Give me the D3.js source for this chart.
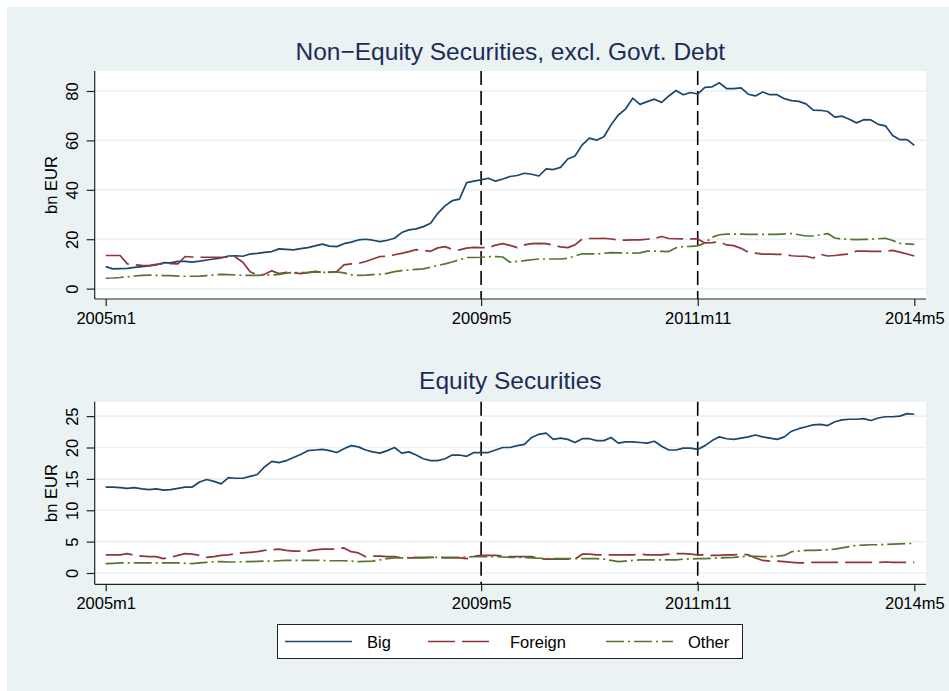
<!DOCTYPE html>
<html>
<head>
<meta charset="utf-8">
<script src="https://cdn.jsdelivr.net/npm/d3@7"></script>
<style>
  body { margin: 0; background: #ffffff; }
  text { font-family: "Liberation Sans", Arial, sans-serif; }
</style>
</head>
<body>
<div id="chart"></div>
<script>
// monthly data, 2005m1 .. 2014m5 (113 months), bn EUR

// x axis labels (Stata monthly format)
var xTickLabels = ["2005m1", "2009m5", "2011m11", "2014m5"];
// reference dates drawn as vertical dashed lines
var refLines = ["2009m5", "2011m11"];

var seriesNames = ["Big", "Foreign", "Other"];

// ---- Non-Equity Securities, excl. Govt. Debt ----
var nonEqBig = [8.9, 8.0, 8.1, 8.2, 8.6, 8.9, 9.2, 9.6, 10.5, 10.4, 11.0, 11.0, 10.7, 11.1, 11.6, 12.0, 12.4, 13.2, 13.3, 13.1,
  14.0, 14.3, 14.7, 15.0, 16.1, 15.9, 15.7, 16.2, 16.6, 17.3, 18.0, 17.2, 17.0, 18.2, 18.8, 19.7, 20.0, 19.6, 19.0, 19.6,
  20.4, 22.7, 23.8, 24.2, 25.1, 26.5, 30.5, 33.5, 35.6, 36.2, 42.9, 43.5, 44.0, 44.7, 43.5, 44.4, 45.4, 45.8, 46.7, 46.3,
  45.6, 48.5, 48.2, 49.1, 52.5, 53.7, 58.2, 60.9, 60.1, 61.5, 66.3, 70.3, 72.7, 77.1, 74.6, 75.7, 76.7, 75.4, 78.0, 80.2,
  78.5, 79.4, 78.8, 81.5, 81.7, 83.3, 81.0, 81.0, 81.3, 78.7, 78.0, 79.6, 78.5, 78.5, 76.9, 76.1, 75.8, 74.8, 72.3, 72.2,
  71.7, 69.4, 69.8, 68.6, 67.1, 68.4, 68.3, 66.5, 65.9, 62.0, 60.3, 60.3, 58.0];
var nonEqForeign = [13.4, 13.4, 13.4, 10.0, 9.7, 9.4, 9.3, 9.8, 10.0, 10.1, 10.0, 13.0, 12.8, 12.7, 12.7, 12.7, 12.7, 12.7, 12.7, 10.7,
  6.8, 5.6, 5.8, 7.2, 6.1, 6.6, 6.4, 6.1, 6.5, 7.0, 6.6, 6.7, 6.9, 9.6, 10.0, 10.2, 11.0, 12.0, 13.0, 13.1,
  13.7, 14.3, 15.0, 15.8, 15.5, 15.1, 16.5, 17.0, 15.9, 15.7, 16.4, 16.7, 16.6, 16.6, 17.6, 18.2, 17.5, 16.6, 17.7, 18.2,
  18.3, 18.2, 17.6, 16.9, 16.6, 17.7, 20.1, 20.3, 20.3, 20.4, 20.1, 19.7, 19.6, 19.7, 19.7, 20.0, 20.3, 21.1, 20.3, 20.2,
  20.1, 20.1, 20.1, 18.5, 18.6, 19.0, 17.7, 17.4, 16.3, 14.7, 14.4, 14.0, 14.0, 13.9, 13.9, 13.3, 13.1, 13.1, 12.4, 13.9,
  13.2, 13.4, 13.8, 14.0, 15.2, 15.2, 15.1, 15.1, 15.1, 15.5, 14.8, 14.0, 13.2];
var nonEqOther = [4.2, 4.3, 4.5, 4.8, 5.1, 5.4, 5.5, 5.4, 5.3, 5.3, 5.1, 5.0, 5.0, 5.1, 5.3, 5.5, 5.8, 5.7, 5.5, 5.4,
  5.4, 5.4, 5.5, 5.5, 5.8, 6.3, 6.5, 6.5, 6.5, 6.8, 6.6, 6.6, 6.8, 6.4, 5.6, 5.4, 5.5, 5.7, 5.8, 6.2,
  6.9, 7.3, 7.5, 7.8, 8.0, 8.7, 9.4, 10.0, 10.8, 11.7, 12.6, 12.6, 12.7, 12.9, 13.0, 12.8, 10.7, 11.0, 11.3, 11.7,
  12.0, 12.0, 12.0, 12.0, 12.3, 13.2, 14.1, 14.1, 14.0, 14.3, 14.6, 14.5, 14.4, 14.4, 14.5, 15.2, 15.2, 15.1, 15.0, 16.5,
  17.0, 17.1, 17.3, 18.5, 20.8, 21.8, 22.1, 22.1, 22.1, 22.0, 22.0, 22.0, 22.0, 22.0, 22.2, 22.3, 21.8, 21.3, 21.3, 21.8,
  22.3, 20.5, 20.0, 20.0, 19.8, 19.9, 20.0, 20.2, 20.4, 19.5, 18.3, 18.1, 17.9];

// ---- Equity Securities ----
var eqBig = [13.7, 13.7, 13.6, 13.5, 13.6, 13.4, 13.3, 13.4, 13.2, 13.3, 13.5, 13.7, 13.7, 14.5, 14.9, 14.6, 14.2, 15.2, 15.1, 15.1,
  15.4, 15.7, 16.9, 17.8, 17.6, 17.9, 18.4, 18.9, 19.5, 19.6, 19.7, 19.5, 19.2, 19.8, 20.3, 20.1, 19.6, 19.3, 19.1, 19.5,
  20.0, 19.1, 19.3, 18.8, 18.2, 17.9, 17.9, 18.2, 18.8, 18.8, 18.6, 19.2, 19.2, 19.2, 19.6, 20.0, 20.0, 20.3, 20.5, 21.6,
  22.1, 22.3, 21.3, 21.5, 21.3, 20.8, 21.4, 21.4, 21.1, 21.1, 21.6, 20.7, 20.9, 20.9, 20.8, 20.7, 21.0, 20.2, 19.6, 19.6,
  19.9, 19.9, 19.7, 20.3, 21.1, 21.7, 21.4, 21.3, 21.5, 21.7, 22.0, 21.7, 21.5, 21.3, 21.7, 22.6, 23.0, 23.3, 23.6, 23.7,
  23.5, 24.1, 24.4, 24.5, 24.5, 24.6, 24.3, 24.7, 24.9, 24.9, 25.0, 25.4, 25.3];
var eqForeign = [2.9, 2.9, 2.9, 3.1, 2.8, 2.7, 2.6, 2.6, 2.3, 2.5, 2.8, 3.1, 3.0, 2.8, 2.5, 2.6, 2.8, 2.9, 3.1, 3.2,
  3.3, 3.4, 3.6, 3.7, 3.8, 3.6, 3.5, 3.5, 3.5, 3.7, 3.8, 3.8, 3.8, 4.0, 3.4, 3.2, 2.6, 2.7, 2.7, 2.6,
  2.6, 2.4, 2.4, 2.4, 2.4, 2.5, 2.5, 2.4, 2.4, 2.4, 2.3, 2.7, 2.8, 2.8, 2.8, 2.7, 2.6, 2.6, 2.6, 2.6,
  2.3, 2.2, 2.2, 2.2, 2.2, 2.2, 3.0, 3.0, 2.9, 2.9, 2.9, 2.9, 2.9, 2.9, 3.0, 2.9, 2.9, 2.9, 3.0, 3.1,
  3.1, 3.0, 2.9, 2.9, 2.8, 2.8, 2.9, 2.9, 3.0, 2.9, 2.4, 2.0, 1.9, 1.9, 1.8, 1.7, 1.6, 1.6, 1.7, 1.7,
  1.7, 1.7, 1.7, 1.7, 1.7, 1.7, 1.7, 1.7, 1.75, 1.7, 1.7, 1.7, 1.7];
var eqOther = [1.5, 1.55, 1.6, 1.6, 1.6, 1.6, 1.6, 1.6, 1.6, 1.6, 1.6, 1.55, 1.5, 1.6, 1.7, 1.8, 1.8, 1.75, 1.75, 1.8,
  1.8, 1.85, 1.9, 1.9, 1.95, 2.0, 2.0, 2.0, 2.0, 2.0, 2.0, 1.95, 1.95, 1.95, 1.9, 1.8, 1.85, 1.9, 2.1, 2.3,
  2.4, 2.4, 2.45, 2.5, 2.5, 2.5, 2.5, 2.5, 2.5, 2.5, 2.55, 2.6, 2.6, 2.6, 2.6, 2.55, 2.5, 2.5, 2.45, 2.4,
  2.35, 2.3, 2.3, 2.3, 2.3, 2.3, 2.3, 2.3, 2.3, 2.2, 2.0, 1.8, 1.9, 2.0, 2.1, 2.1, 2.1, 2.1, 2.1, 2.1,
  2.2, 2.25, 2.3, 2.3, 2.35, 2.4, 2.45, 2.5, 2.6, 2.7, 2.65, 2.6, 2.6, 2.7, 2.8, 3.4, 3.5, 3.6, 3.6, 3.65,
  3.7, 3.8, 4.0, 4.2, 4.4, 4.45, 4.5, 4.5, 4.55, 4.6, 4.65, 4.7, 4.7];

// y ticks for each panel
var nonEqTicks = [0, 20, 40, 60, 80];
var eqTicks = [0, 5, 10, 15, 20, 25];

/******************************* Setup **************************/
var width = 949, height = 691;
var colors = ["#1a476f", "#90353b", "#55752f"];
var dashes = [null, "27,7", "18,4,2,4"];

// "2009m5" -> month index counted from 2005m1
function monthIndex(s) {
  var p = s.split("m");
  return (+p[0] - 2005) * 12 + (+p[1] - 1);
}

var svg = d3.select("#chart").append("svg")
  .attr("width", width)
  .attr("height", height);

// graph region
svg.append("rect")
  .attr("x", 7).attr("y", 7)
  .attr("width", width - 7).attr("height", height - 7)
  .attr("fill", "#eaf2f3");

var x = d3.scaleLinear()
  .domain([0, 112])
  .range([105.7, 914.3]);

var plotLeft = 94.7, plotRight = 926;

function drawPanel(opt) {
  var y = d3.scaleLinear().domain(opt.domain).range([opt.bottom, opt.top]);
  var g = svg.append("g");

  // plot region
  g.append("rect")
    .attr("x", plotLeft).attr("y", opt.top)
    .attr("width", plotRight - plotLeft).attr("height", opt.bottom - opt.top)
    .attr("fill", "#ffffff");

  // grid lines
  g.selectAll(".grid")
    .data(opt.ticks)
    .enter().append("line")
    .attr("x1", plotLeft).attr("x2", plotRight)
    .attr("y1", function(d) { return y(d); })
    .attr("y2", function(d) { return y(d); })
    .attr("stroke", "#eaf2f3")
    .attr("stroke-width", 1.6);

  // reference lines
  g.selectAll(".ref")
    .data(refLines)
    .enter().append("line")
    .attr("x1", function(d) { return x(monthIndex(d)); })
    .attr("x2", function(d) { return x(monthIndex(d)); })
    .attr("y1", opt.top).attr("y2", opt.bottom)
    .attr("stroke", "#000")
    .attr("stroke-width", 1.6)
    .attr("stroke-dasharray", "14,6");

  // series
  var line = d3.line()
    .x(function(d, i) { return x(i); })
    .y(function(d) { return y(d); });

  opt.series.forEach(function(s, k) {
    g.append("path")
      .datum(s)
      .attr("fill", "none")
      .attr("stroke", colors[k])
      .attr("stroke-width", 1.7)
      .attr("stroke-linejoin", "round")
      .attr("stroke-dasharray", dashes[k])
      .attr("d", line);
  });

  // y axis
  var yAxis = g.append("g")
    .attr("transform", "translate(" + plotLeft + ",0)")
    .call(d3.axisLeft(y).tickValues(opt.ticks).tickSize(8).tickSizeOuter(0).tickPadding(0));
  yAxis.select(".domain").remove();
  yAxis.append("line")
    .attr("x1", 0).attr("x2", 0)
    .attr("y1", opt.top).attr("y2", opt.bottom)
    .attr("stroke", "#222").attr("stroke-width", 1.2);
  yAxis.selectAll(".tick line").attr("stroke", "#222").attr("stroke-width", 1.2);
  yAxis.selectAll(".tick text")
    .attr("x", 0).attr("dy", null)
    .attr("transform", "translate(-16.5,0) rotate(-90)")
    .attr("text-anchor", "middle")
    .attr("font-size", 16.5)
    .attr("fill", "#000");

  // x axis
  var xAxis = g.append("g")
    .attr("transform", "translate(0," + opt.bottom + ")")
    .call(d3.axisBottom(x)
      .tickValues(xTickLabels.map(monthIndex))
      .tickFormat(function(d, i) { return xTickLabels[i]; })
      .tickSize(7).tickSizeOuter(0).tickPadding(6));
  xAxis.select(".domain").remove();
  xAxis.append("line")
    .attr("x1", plotLeft).attr("x2", plotRight)
    .attr("y1", 0).attr("y2", 0)
    .attr("stroke", "#222").attr("stroke-width", 1.2);
  xAxis.selectAll(".tick line").attr("stroke", "#222").attr("stroke-width", 1.2);
  xAxis.selectAll(".tick text")
    .attr("font-size", 16.5)
    .attr("fill", "#000");

  // y axis title
  g.append("text")
    .attr("transform", "translate(57," + ((opt.top + opt.bottom) / 2) + ") rotate(-90)")
    .attr("text-anchor", "middle")
    .attr("font-size", 16.5)
    .attr("fill", "#000")
    .text("bn EUR");

  // title
  g.append("text")
    .attr("x", (plotLeft + plotRight) / 2)
    .attr("y", opt.titleY)
    .attr("text-anchor", "middle")
    .attr("font-size", 24.5)
    .attr("fill", "#1e2c55")
    .text(opt.title);
}

drawPanel({
  title: "Non\u2212Equity Securities, excl. Govt. Debt",
  titleY: 60,
  top: 71, bottom: 299,
  domain: [-4.2, 88.1],
  ticks: nonEqTicks,
  series: [nonEqBig, nonEqForeign, nonEqOther]
});

drawPanel({
  title: "Equity Securities",
  titleY: 389,
  top: 401.7, bottom: 584.3,
  domain: [-1.8, 27.3],
  ticks: eqTicks,
  series: [eqBig, eqForeign, eqOther]
});

/******************************* Legend **************************/
var legend = svg.append("g");
legend.append("rect")
  .attr("x", 277.5).attr("y", 624.5)
  .attr("width", 465).attr("height", 34)
  .attr("fill", "#fff")
  .attr("stroke", "#222").attr("stroke-width", 1);

var legX = [285, 428, 606];
seriesNames.forEach(function(name, k) {
  legend.append("line")
    .attr("x1", legX[k]).attr("x2", legX[k] + 67)
    .attr("y1", 641.5).attr("y2", 641.5)
    .attr("stroke", colors[k])
    .attr("stroke-width", 1.7)
    .attr("stroke-dasharray", dashes[k]);
  legend.append("text")
    .attr("x", legX[k] + 82)
    .attr("y", 648)
    .attr("font-size", 16.5)
    .attr("fill", "#000")
    .text(name);
});
</script>
</body>
</html>
